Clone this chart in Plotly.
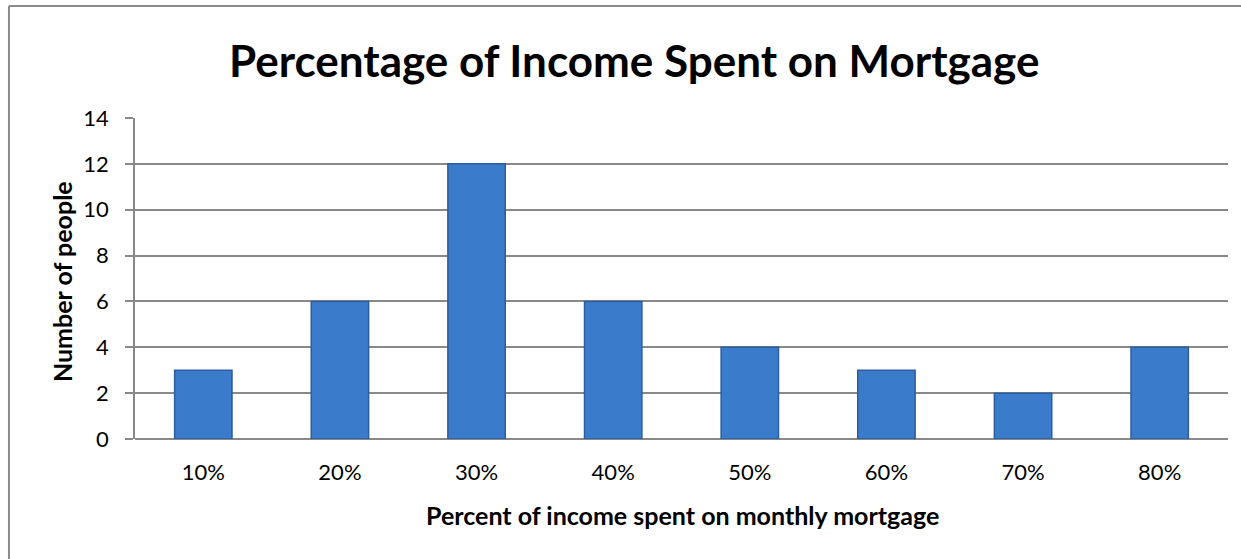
import plotly.graph_objects as go

categories = ["10%", "20%", "30%", "40%", "50%", "60%", "70%", "80%"]
people = [3, 6, 12, 6, 4, 3, 2, 4]
y_ticks = [0, 2, 4, 6, 8, 10, 12, 14]

title_text = "Percentage of Income Spent on Mortgage"
x_title = "Percent of income spent on monthly mortgage"
y_title = "Number of people"

FONT = "Lato"
GRID = "#898989"
BORDER = "#8a8a8a"

fig = go.Figure()
fig.add_trace(go.Bar(
    x=categories, y=people,
    marker=dict(color="#3B7BCB", line=dict(color="#2C5E9E", width=1.5)),
    hoverinfo="x+y",
))

fig.update_layout(
    width=1241, height=559,
    margin=dict(l=135, r=13, t=118, b=120),
    paper_bgcolor="white", plot_bgcolor="white",
    bargap=0.58,
    showlegend=False,
    font=dict(family=FONT, color="black"),
    xaxis=dict(
        type="category", showgrid=False, showline=False, zeroline=False,
        ticks="", tickfont=dict(size=22, family=FONT), ticklabelstandoff=18,
    ),
    yaxis=dict(
        range=[0, 14], tickvals=y_ticks, showgrid=True, gridcolor=GRID, gridwidth=1.5,
        showline=True, linecolor=GRID, linewidth=1.5, zeroline=True, zerolinecolor=GRID,
        zerolinewidth=1.5, ticks="outside", ticklen=8, tickcolor=GRID, tickwidth=1.5,
        tickfont=dict(size=22, family=FONT), ticklabelstandoff=12,
    ),
    annotations=[
        dict(text=f"<b>{title_text}</b>", xref="paper", yref="paper", x=0.4565, y=1.1807,
             xanchor="center", yanchor="middle", showarrow=False, font=dict(size=44, family=FONT)),
        dict(text=f"<b>{x_title}</b>", xref="paper", yref="paper", x=0.5005, y=-0.2368,
             xanchor="center", yanchor="middle", showarrow=False, font=dict(size=25, family=FONT)),
        dict(text=f"<b>{y_title}</b>", xref="paper", yref="paper", x=-0.0668, y=0.492,
             xanchor="center", yanchor="middle", showarrow=False, textangle=-90,
             font=dict(size=25, family=FONT)),
    ],
    shapes=[
        dict(type="line", xref="paper", yref="paper", x0=-0.1153, x1=-0.1153, y0=-0.5, y1=1.3489,
             line=dict(color=BORDER, width=2), layer="below"),
        dict(type="line", xref="paper", yref="paper", x0=-0.1153, x1=1.2, y0=1.3489, y1=1.3489,
             line=dict(color=BORDER, width=2), layer="below"),
    ],
)

fig.write_html(
    "out.html",
    config={"displayModeBar": False},
    post_script=(
        "document.body.style.margin='0';"
        "document.body.style.overflow='hidden';"
        "document.documentElement.style.overflow='hidden';"
    ),
)
